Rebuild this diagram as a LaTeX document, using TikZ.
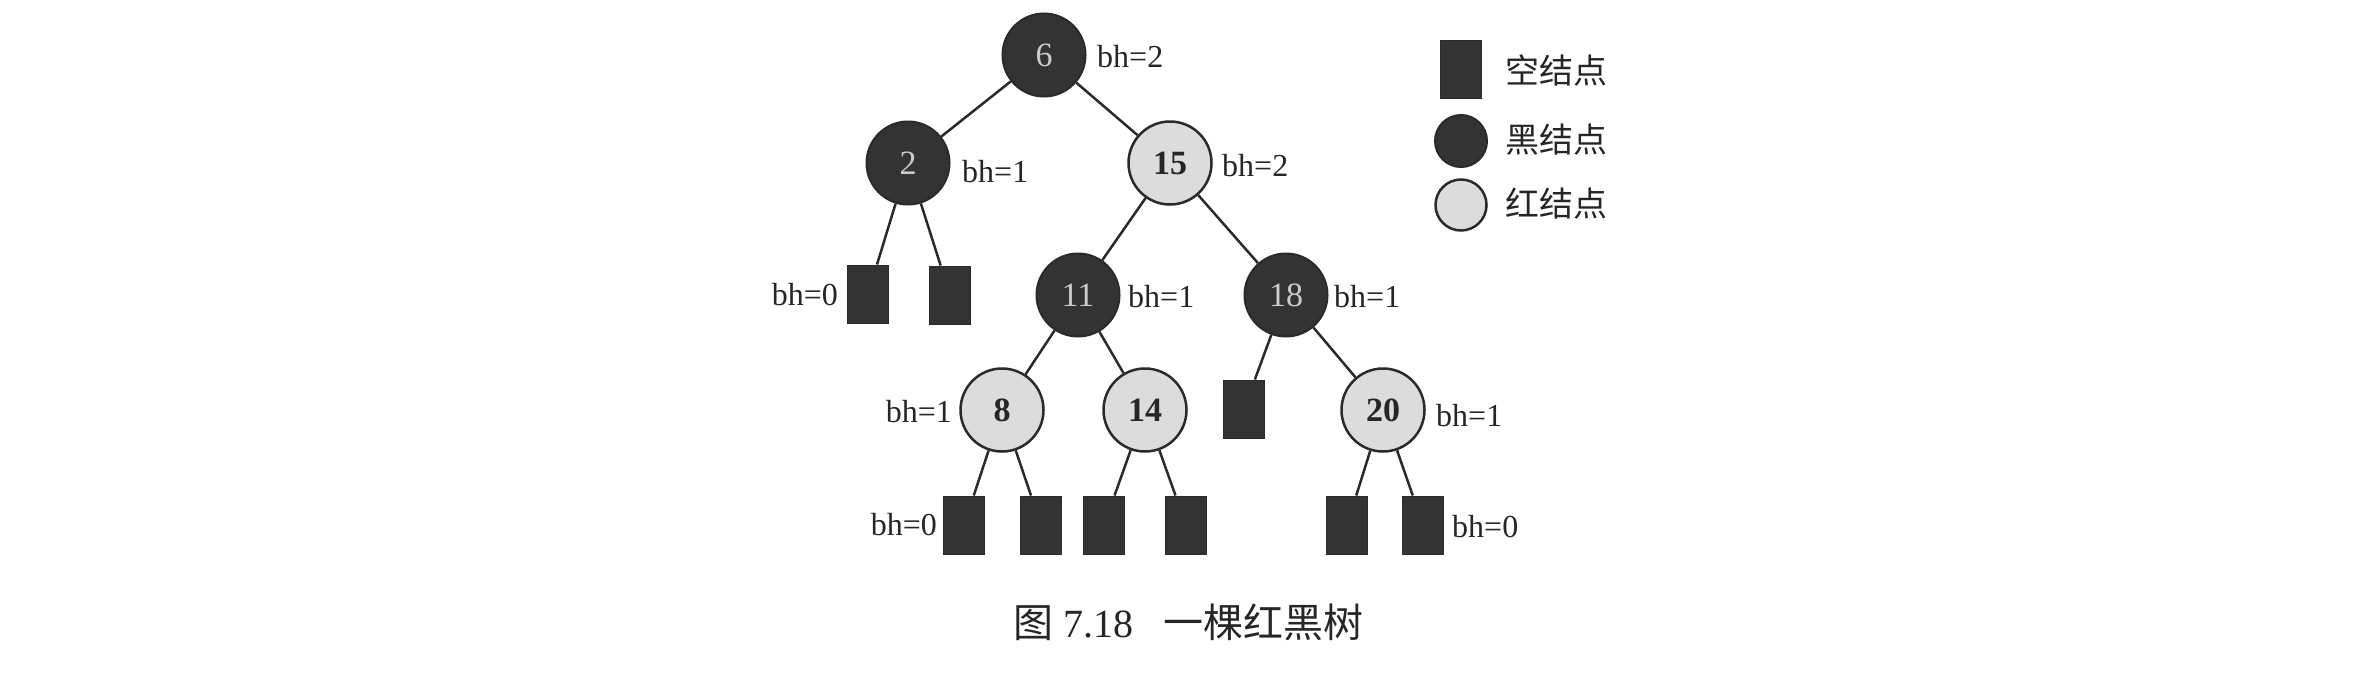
\documentclass[tikz,border=0pt]{standalone}
\usepackage{fontspec}
\setmainfont{Liberation Serif}
\newfontfamily\cjk{Noto Sans CJK SC}
\definecolor{blk}{HTML}{333333}
\definecolor{redn}{HTML}{DCDCDC}
\definecolor{edge}{HTML}{2A2A2A}
\begin{document}
\begin{tikzpicture}[x=1pt,y=-1pt,
  bnode/.style={circle,draw=edge,line width=2pt,fill=blk,minimum size=83pt,inner sep=0pt,
    text=white!80!black,font=\fontsize{34}{40}\selectfont},
  rnode/.style={circle,draw=edge,line width=2.5pt,fill=redn,minimum size=83pt,inner sep=0pt,
    text=black!85,font=\fontsize{34}{40}\selectfont\bfseries},
  nil/.style={rectangle,draw=edge,line width=1pt,fill=blk,minimum width=41pt,minimum height=58pt,inner sep=0pt},
  lab/.style={font=\fontsize{32}{38}\selectfont,text=black!85,inner sep=0pt},
  leg/.style={font=\fontsize{34}{40}\selectfont\cjk,text=black!85,inner sep=0pt,anchor=west},
  link/.style={draw=edge,line width=2.5pt}]
\useasboundingbox (0,0) rectangle (2373,680);
\fill[white] (0,0) rectangle (2373,680);
% tree nodes
\node[bnode] (n6) at (1044,55) {6};
\node[bnode] (n2) at (908,163) {2};
\node[rnode] (n15) at (1170,163) {15};
\node[nil] (s2a) at (868,294) {};
\node[nil] (s2b) at (950,295) {};
\node[bnode] (n11) at (1078,295) {11};
\node[bnode] (n18) at (1286,295) {18};
\node[rnode] (n8) at (1002,410) {8};
\node[rnode] (n14) at (1145,410) {14};
\node[nil] (s18a) at (1244,409) {};
\node[rnode] (n20) at (1383,410) {20};
\node[nil] (s8a) at (964,525) {};
\node[nil] (s8b) at (1041,525) {};
\node[nil] (s14a) at (1104,525) {};
\node[nil] (s14b) at (1186,525) {};
\node[nil] (s20a) at (1347,525) {};
\node[nil] (s20b) at (1423,525) {};
% edges
\draw[link] (n6) -- (n2);
\draw[link] (n6) -- (n15);
\draw[link] (n2) -- (s2a);
\draw[link] (n2) -- (s2b);
\draw[link] (n15) -- (n11);
\draw[link] (n15) -- (n18);
\draw[link] (n11) -- (n8);
\draw[link] (n11) -- (n14);
\draw[link] (n18) -- (s18a);
\draw[link] (n18) -- (n20);
\draw[link] (n8) -- (s8a);
\draw[link] (n8) -- (s8b);
\draw[link] (n14) -- (s14a);
\draw[link] (n14) -- (s14b);
\draw[link] (n20) -- (s20a);
\draw[link] (n20) -- (s20b);
% bh labels
\node[lab,anchor=west] (l6) at (1097,57) {bh=2};
\node[lab,anchor=west] (l2) at (962,172) {bh=1};
\node[lab,anchor=west] (l15) at (1222,166) {bh=2};
\node[lab,anchor=east] (ls2) at (838,295) {bh=0};
\node[lab,anchor=west] (l11) at (1128,297) {bh=1};
\node[lab,anchor=west] (l18) at (1334,297) {bh=1};
\node[lab,anchor=east] (l8) at (952,412) {bh=1};
\node[lab,anchor=west] (l20) at (1436,416) {bh=1};
\node[lab,anchor=east] (ls8) at (937,525) {bh=0};
\node[lab,anchor=west] (ls20) at (1452,527) {bh=0};
% legend
\node[nil] (gnil) at (1461,69) {};
\node[bnode,minimum size=52pt] (gblk) at (1461,141) {};
\node[rnode,minimum size=51pt] (gred) at (1461,205) {};
\node[leg] (tnil) at (1505,70) {空结点};
\node[leg] (tblk) at (1505,140) {黑结点};
\node[leg] (tred) at (1505,204) {红结点};
% caption
\node[inner sep=0pt,text=black!85,font=\fontsize{40}{46}\selectfont] (cap) at (1188,622) {{\cjk 图} 7.18\hspace{30pt}{\cjk 一棵红黑树}};
\end{tikzpicture}
\end{document}
